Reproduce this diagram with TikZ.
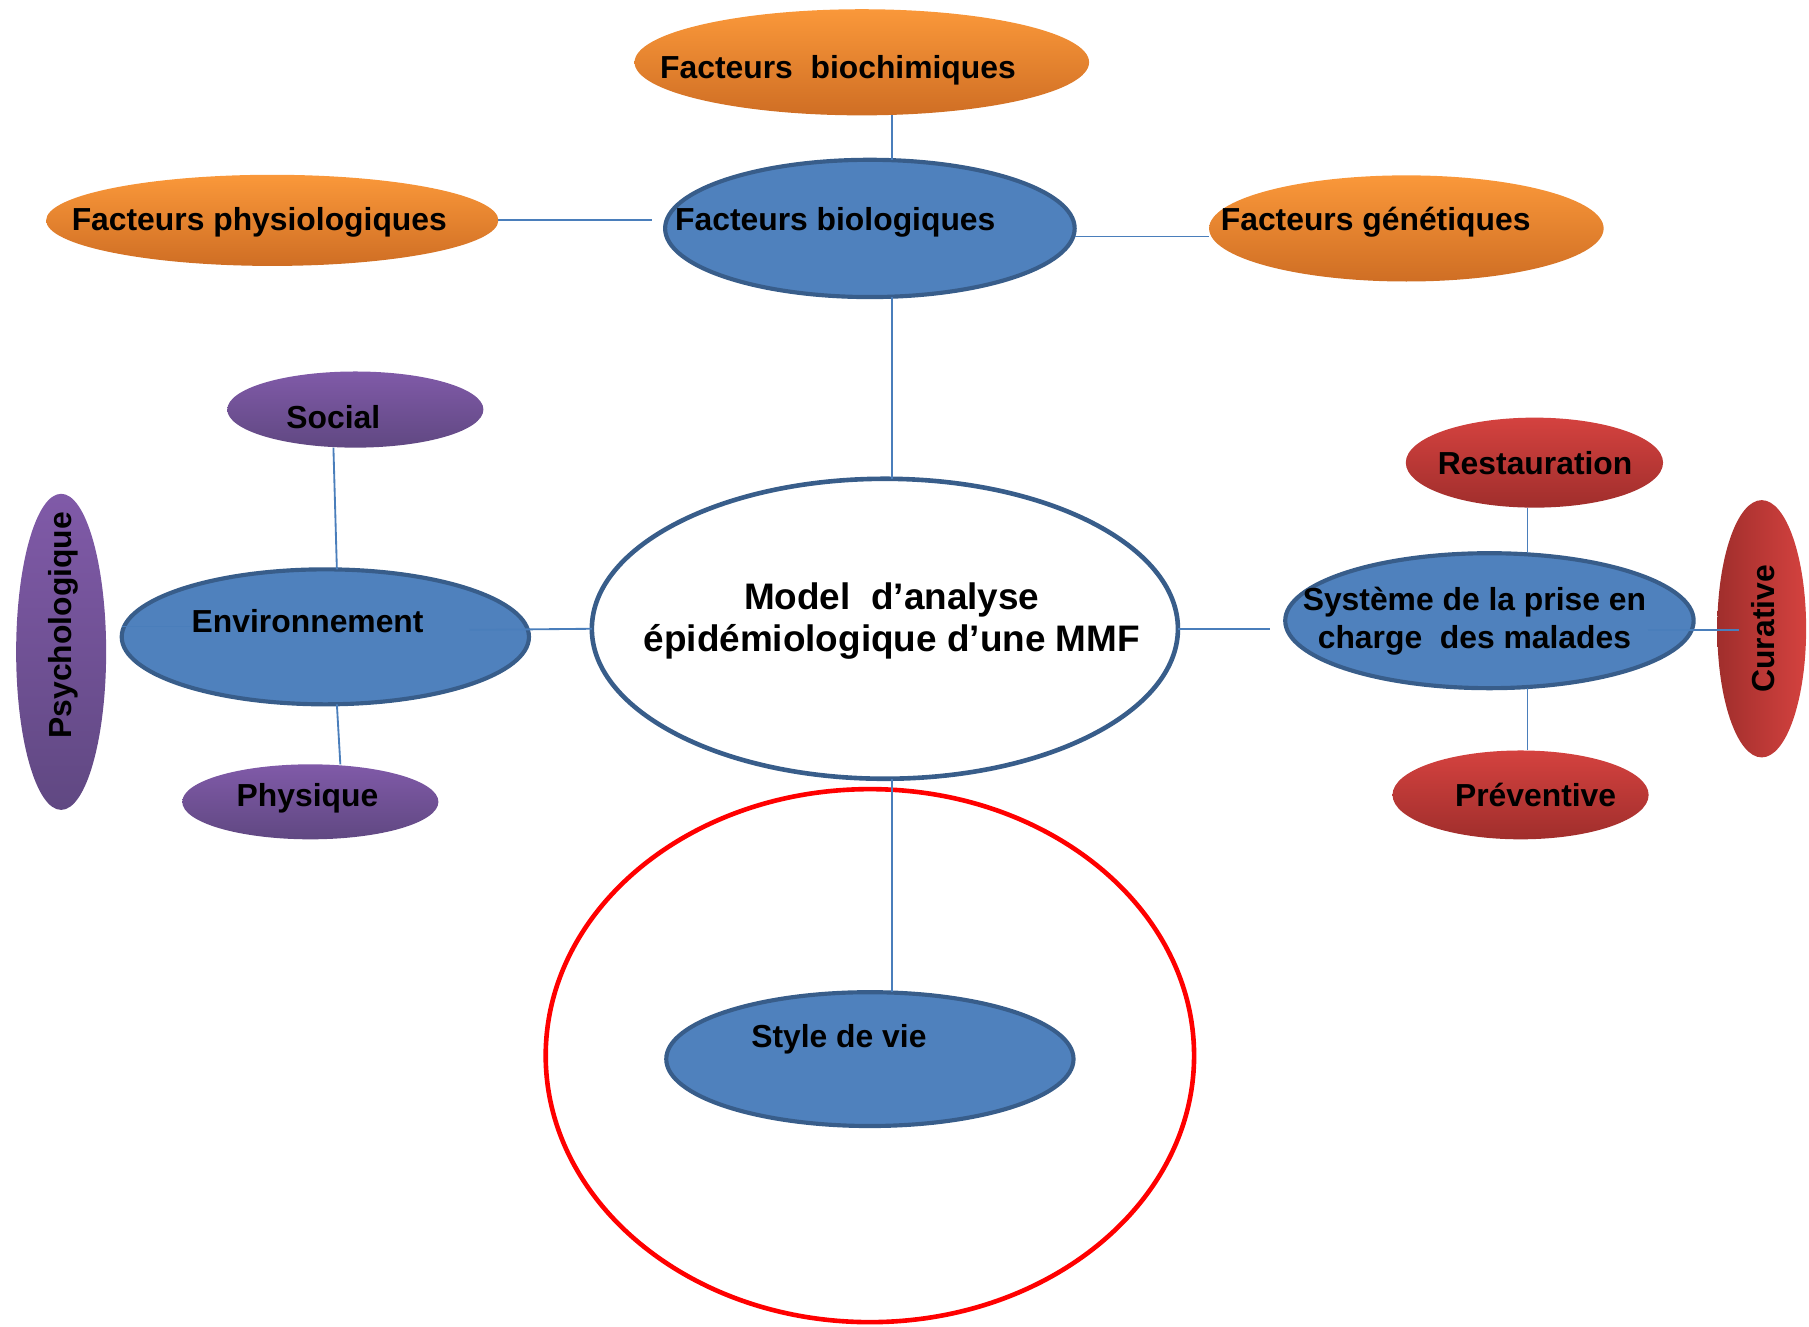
\documentclass[tikz,border=0pt]{standalone}
\usepackage{fontspec}
\setmainfont{Liberation Sans}
\usetikzlibrary{shapes.geometric}
\definecolor{oraT}{RGB}{250,152,58}
\definecolor{oraB}{RGB}{207,110,36}
\definecolor{bluF}{RGB}{79,129,189}
\definecolor{bluD}{RGB}{56,93,138}
\definecolor{purT}{RGB}{128,90,168}
\definecolor{purB}{RGB}{96,72,130}
\definecolor{redT}{RGB}{212,66,63}
\definecolor{redB}{RGB}{160,46,44}
\definecolor{connc}{RGB}{74,126,187}
\definecolor{ringred}{RGB}{255,0,0}
\begin{document}
\begin{tikzpicture}[x=1pt,y=-1pt,
  oval/.style={ellipse, inner sep=0pt, outer sep=0pt},
  orangeoval/.style={oval, top color=oraT, bottom color=oraB, draw=none},
  blueoval/.style={oval, fill=bluF, draw=bluD, line width=3.6pt},
  purpleoval/.style={oval, top color=purT, bottom color=purB, draw=none},
  redoval/.style={oval, top color=redT, bottom color=redB, draw=none},
  lbl/.style={font=\fontsize{27.6}{33}\selectfont\bfseries, inner sep=0pt, anchor=base west},
  link/.style={draw=connc, line width=1.6pt}
]
\useasboundingbox (0,0) rectangle (1568,1150);

% red ring
\node[oval, draw=ringred, line width=4pt, minimum width=562pt, minimum height=462pt] (ring) at (754,915) {};

% nodes
\node[orangeoval, minimum width=394pt, minimum height=92pt] (bioch) at (747,54) {};
\node[blueoval, minimum width=355pt, minimum height=119pt] (bio) at (754,198) {};
\node[orangeoval, minimum width=392pt, minimum height=79pt] (phys) at (236,191) {};
\node[orangeoval, minimum width=342pt, minimum height=92pt] (gen) at (1219,198) {};
\node[oval, fill=white, draw=bluD, line width=4pt, minimum width=508pt, minimum height=260pt] (center) at (767,545) {};
\node[blueoval, minimum width=353pt, minimum height=116pt] (style) at (754,918) {};
\node[blueoval, minimum width=353pt, minimum height=117pt] (env) at (282,552) {};
\node[purpleoval, minimum width=222pt, minimum height=66pt] (social) at (308,355) {};
\node[purpleoval, minimum width=222pt, minimum height=65pt] (physq) at (269,695) {};
\node[purpleoval, minimum width=78pt, minimum height=274pt] (psy) at (53,565) {};
\node[blueoval, minimum width=354pt, minimum height=117pt] (sys) at (1291,538) {};
\node[redoval, minimum width=223pt, minimum height=78pt] (rest) at (1330,401) {};
\node[redoval, minimum width=222pt, minimum height=77pt] (prev) at (1318,689) {};
\node[oval, left color=redB, right color=redT, draw=none, minimum width=77pt, minimum height=223pt] (cur) at (1527,545) {};

% helper coordinates
\coordinate (spine) at (773,0);
\coordinate (gy) at (0,205);
\coordinate (physend) at (565,191);
\coordinate (sysend) at (1101,545);
\coordinate (xa) at (289,0);
\coordinate (xb) at (292,0);
\coordinate (xc) at (295,0);
\coordinate (xr) at (1324,0);
\coordinate (ey) at (0,543);
\coordinate (envin) at (166,543);
\coordinate (envr) at (407,546);
\coordinate (sysr) at (1428,546);
\coordinate (curin) at (1507,546);

% connectors
\draw[link] (bioch.south -| spine) -- (bio.north -| spine);
\draw[link] (bio.south -| spine) -- (center.north -| spine);
\draw[link] (center.south -| spine) -- (style.north -| spine);
\draw[link] (phys.east) -- (physend);
\draw[link] (bio.east |- gy) -- (gen.west |- gy);
\draw[link] (center.west) -- (envr);
\draw[link] (center.east) -- (sysend);
\draw[link] (social.south -| xa) -- (env.north -| xb);
\draw[link] (env.south -| xb) -- (physq.north -| xc);
\draw[link] (env.west |- ey) -- (envin);
\draw[link] (rest.south -| xr) -- (sys.north -| xr);
\draw[link] (sys.south -| xr) -- (prev.north -| xr);
\draw[link] (sysr) -- (curin);

% labels
\node[lbl] (tbioch) at (572,68) {Facteurs\ \ biochimiques};
\node[lbl] (tphys) at (62,200) {Facteurs physiologiques};
\node[lbl] (tbio) at (585,200) {Facteurs biologiques};
\node[lbl] (tgen) at (1058,200) {Facteurs génétiques};
\node[lbl] (tsoc) at (248,371) {Social};
\node[lbl] (tenv) at (166,548) {Environnement};
\node[lbl] (tphq) at (205,699) {Physique};
\node[lbl] (trest) at (1246,411) {Restauration};
\node[lbl] (tprev) at (1261,699) {Préventive};
\node[lbl, anchor=base, align=center] (tsys) at (1278,562) {Système de la prise en\\charge\ \ des malades};
\node[lbl, anchor=base, align=center, font=\fontsize{32}{37}\selectfont\bfseries] (tcen) at (773,565) {Model\ \ d’analyse\\épidémiologique d’une MMF};
\node[lbl] (tstyle) at (651,908) {Style de vie};
\node[lbl, anchor=base, rotate=90] (tpsy) at (62,542) {Psychologique};
\node[lbl, anchor=base, rotate=90] (tcur) at (1538,545) {Curative};
\end{tikzpicture}
\end{document}
